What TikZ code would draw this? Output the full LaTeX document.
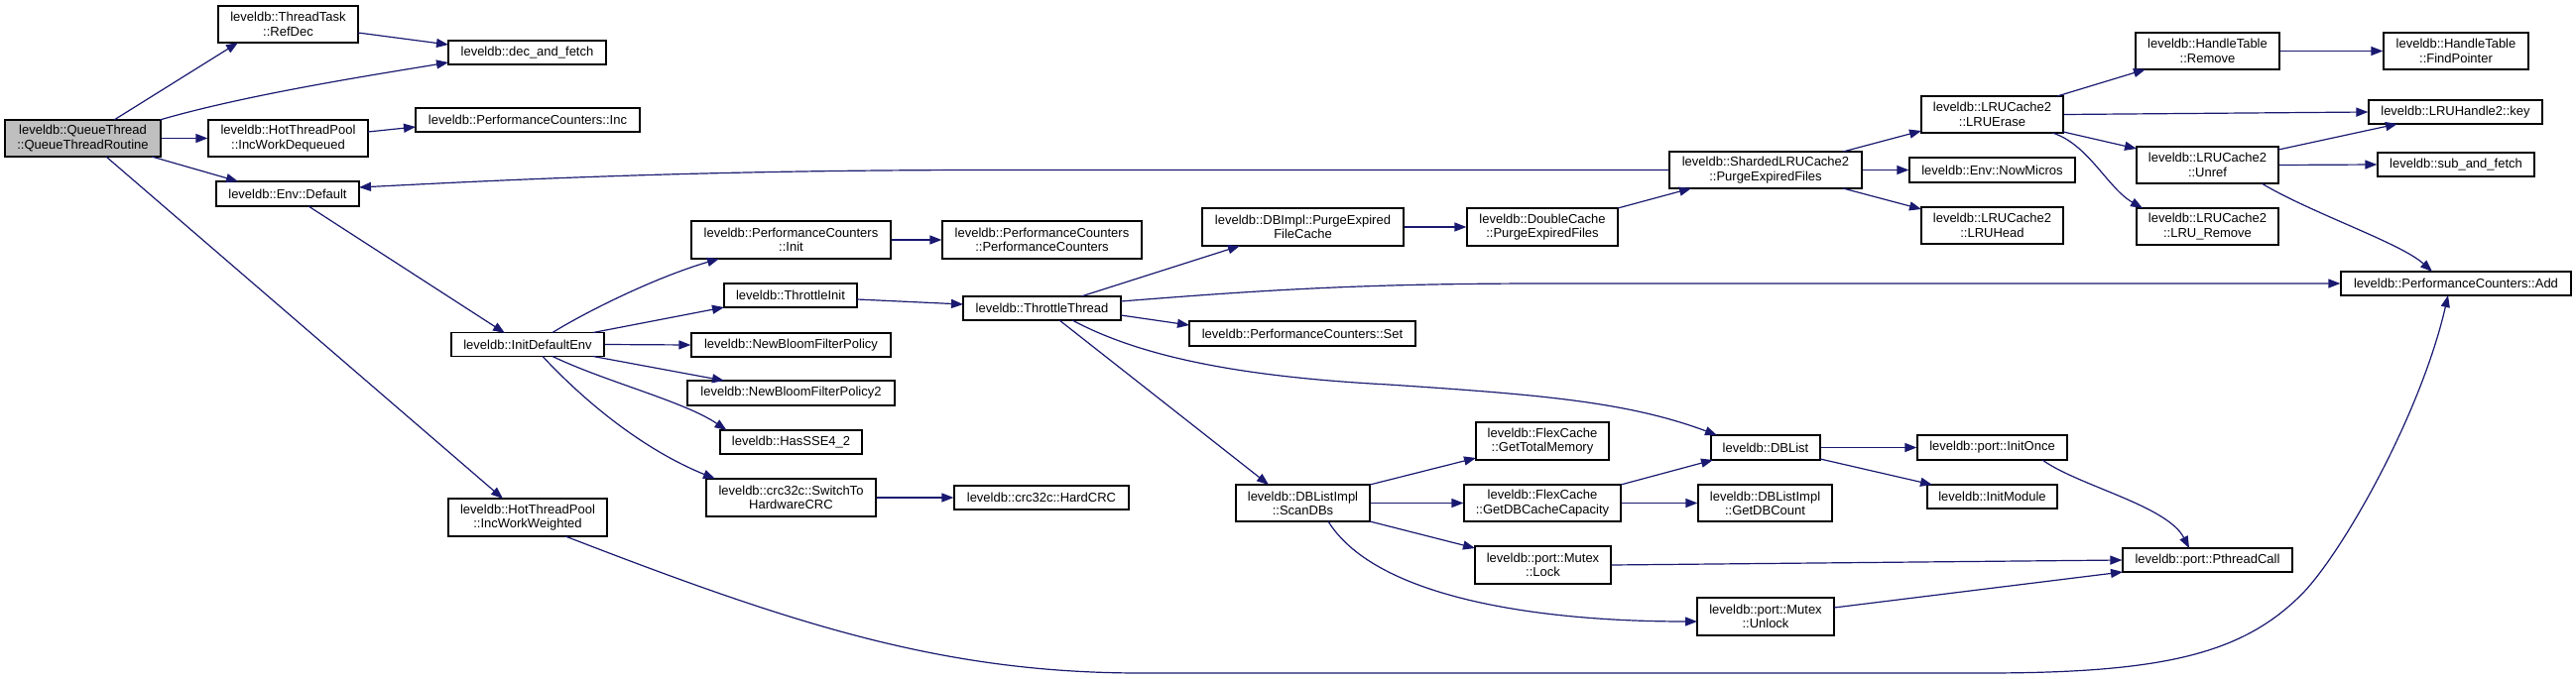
\documentclass[tikz,border=0pt]{standalone}
\usepackage{fontspec}
\setmainfont{Liberation Sans}
\usetikzlibrary{arrows.meta}
\definecolor{edgeblue}{HTML}{191970}
\definecolor{rootgray}{HTML}{BFBFBF}
\begin{document}
\begin{tikzpicture}[x=1pt,y=-1pt,
  fn/.style={draw=black, line width=1.2pt, fill=white, inner sep=0pt, align=center,
    font=\fontsize{13}{14.3}\selectfont},
  root/.style={fn, fill=rootgray},
  sz/.style 2 args={minimum width=#1pt, minimum height=#2pt},
  call/.style={draw=edgeblue, line width=1.2pt, -{Triangle[length=12pt,width=9pt]}},
]
\fill[white] (0,0) rectangle (2597,685);
\useasboundingbox (0,0) rectangle (2597,685);

% nodes
\node[root,sz={157}{37}] (qt) at (83.5,139.5) {leveldb::QueueThread\\::QueueThreadRoutine};
\node[fn,sz={141}{37}] (refdec) at (290.5,24.5) {leveldb::ThreadTask\\::RefDec};
\node[fn,sz={159}{24}] (decf) at (531.5,53) {leveldb::dec\_and\_fetch};
\node[fn,sz={161}{37}] (iwd) at (290.5,139.5) {leveldb::HotThreadPool\\::IncWorkDequeued};
\node[fn,sz={226}{24}] (pinc) at (532,121) {leveldb::PerformanceCounters::Inc};
\node[fn,sz={144}{25}] (envdef) at (290,195.5) {leveldb::Env::Default};
\node[fn,sz={154}{24}] (initenv) at (532,347.5) {leveldb::InitDefaultEnv};
\node[fn,sz={160}{38}] (iww) at (532,522) {leveldb::HotThreadPool\\::IncWorkWeighted};
\node[fn,sz={201}{38}] (pcinit) at (797.5,242) {leveldb::PerformanceCounters\\::Init};
\node[fn,sz={201}{38}] (pcpc) at (1050.5,242) {leveldb::PerformanceCounters\\::PerformanceCounters};
\node[fn,sz={134}{24}] (thinit) at (797,298) {leveldb::ThrottleInit};
\node[fn,sz={201}{24}] (nbfp) at (797.5,348) {leveldb::NewBloomFilterPolicy};
\node[fn,sz={209}{25}] (nbfp2) at (797.5,396.5) {leveldb::NewBloomFilterPolicy2};
\node[fn,sz={143}{24}] (sse) at (797.5,446) {leveldb::HasSSE4\_2};
\node[fn,sz={171}{38}] (sw) at (797.5,502) {leveldb::crc32c::SwitchTo\\HardwareCRC};
\node[fn,sz={176}{24}] (hardcrc) at (1050,502) {leveldb::crc32c::HardCRC};
\node[fn,sz={159}{24}] (tt) at (1050.5,311) {leveldb::ThrottleThread};
\node[fn,sz={203}{38}] (pefc) at (1313.5,229) {leveldb::DBImpl::PurgeExpired\\FileCache};
\node[fn,sz={228}{25}] (pset) at (1313,336.5) {leveldb::PerformanceCounters::Set};
\node[fn,sz={135}{37}] (scan) at (1313.5,507.5) {leveldb::DBListImpl\\::ScanDBs};
\node[fn,sz={152}{38}] (dc) at (1555,229) {leveldb::DoubleCache\\::PurgeExpiredFiles};
\node[fn,sz={134}{38}] (gtm) at (1555,445) {leveldb::FlexCache\\::GetTotalMemory};
\node[fn,sz={158}{37}] (gdbc) at (1555,507.5) {leveldb::FlexCache\\::GetDBCacheCapacity};
\node[fn,sz={137}{38}] (lock) at (1555.5,570) {leveldb::port::Mutex\\::Lock};
\node[fn,sz={194}{37}] (slru) at (1780,171.5) {leveldb::ShardedLRUCache2\\::PurgeExpiredFiles};
\node[fn,sz={110}{25}] (dblist) at (1780,451.5) {leveldb::DBList};
\node[fn,sz={135}{37}] (gdbcount) at (1779.5,507.5) {leveldb::DBListImpl\\::GetDBCount};
\node[fn,sz={138}{38}] (unlock) at (1780,622) {leveldb::port::Mutex\\::Unlock};
\node[fn,sz={143}{37}] (lruerase) at (2008.5,115.5) {leveldb::LRUCache2\\::LRUErase};
\node[fn,sz={167}{25}] (nowmicros) at (2008.5,171.5) {leveldb::Env::NowMicros};
\node[fn,sz={143}{37}] (lruhead) at (2008.5,227.5) {leveldb::LRUCache2\\::LRUHead};
\node[fn,sz={151}{25}] (initonce) at (2008.5,451.5) {leveldb::port::InitOnce};
\node[fn,sz={131}{24}] (initmodule) at (2008.5,501) {leveldb::InitModule};
\node[fn,sz={145}{37}] (htremove) at (2225.5,51.5) {leveldb::HandleTable\\::Remove};
\node[fn,sz={143}{37}] (unref) at (2225.5,166.5) {leveldb::LRUCache2\\::Unref};
\node[fn,sz={143}{37}] (lruremove) at (2225.5,228.5) {leveldb::LRUCache2\\::LRU\_Remove};
\node[fn,sz={171}{24}] (pthread) at (2225.5,565) {leveldb::port::PthreadCall};
\node[fn,sz={146}{37}] (findptr) at (2476,51.5) {leveldb::HandleTable\\::FindPointer};
\node[fn,sz={175}{24}] (key) at (2475.5,113) {leveldb::LRUHandle2::key};
\node[fn,sz={158}{24}] (subfetch) at (2476,166) {leveldb::sub\_and\_fetch};
\node[fn,sz={232}{24}] (padd) at (2476,286) {leveldb::PerformanceCounters::Add};

% edges
\draw[call] ([shift={(31.5,-18.5)}]qt.center) -- ([shift={(-50.5,18.5)}]refdec.center);
\draw[call] ([shift={(77.5,-18.5)}]qt.center) .. controls (250,95) and (380,75) .. ([shift={(-79.5,10)}]decf.center);
\draw[call] (qt.east) -- (iwd.west);
\draw[call] ([shift={(69.5,18.5)}]qt.center) -- ([shift={(-50,-12.5)}]envdef.center);
\draw[call] ([shift={(23.5,18.5)}]qt.center) -- ([shift={(-25,-19)}]iww.center);
\draw[call] ([shift={(70.5,8.5)}]refdec.center) -- ([shift={(-79.5,-8)}]decf.center);
\draw[call] ([shift={(80.5,-6.5)}]iwd.center) -- ([shift={(-113,7)}]pinc.center);
\draw[call] ([shift={(21,12.5)}]envdef.center) -- ([shift={(-23,-11.5)}]initenv.center);
\draw[call] ([shift={(25,-12)}]initenv.center) .. controls (590,315) and (660,280) .. ([shift={(-72.5,19)}]pcinit.center);
\draw[call] ([shift={(66,-12)}]initenv.center) -- ([shift={(-67,12)}]thinit.center);
\draw[call] (initenv.east) -- (nbfp.west);
\draw[call] ([shift={(66,12)}]initenv.center) -- ([shift={(-67.5,-12.5)}]nbfp2.center);
\draw[call] ([shift={(25,12)}]initenv.center) .. controls (610,385) and (690,405) .. ([shift={(-65,-12)}]sse.center);
\draw[call] ([shift={(15,12)}]initenv.center) .. controls (580,395) and (640,450) .. ([shift={(-76.5,-19)}]sw.center);
\draw[call] (pcinit.east) -- (pcpc.west);
\draw[call] ([shift={(67,4)}]thinit.center) -- ([shift={(-79.5,-4)}]tt.center);
\draw[call] (sw.east) -- (hardcrc.west);
\draw[call] ([shift={(39.5,-12)}]tt.center) -- ([shift={(-63.5,19)}]pefc.center);
\draw[call] ([shift={(79.5,-7)}]tt.center) .. controls (1280,292) and (1380,286) .. (1560,286) -- (padd.west);
\draw[call] ([shift={(79.5,7)}]tt.center) -- ([shift={(-114,-8.5)}]pset.center);
\draw[call] ([shift={(30.5,12)}]tt.center) .. controls (1150,360) and (1250,380) .. (1400,388) .. controls (1550,398) and (1640,405) .. ([shift={(-49,-12.5)}]dblist.center);
\draw[call] ([shift={(17.5,12)}]tt.center) -- ([shift={(-34.5,-18.5)}]scan.center);
\draw[call] (pefc.east) -- (dc.west);
\draw[call] ([shift={(76,-19)}]dc.center) -- ([shift={(-75,18.5)}]slru.center);
\draw[call] (slru.west) -- (1000,171.5) .. controls (700,171.5) and (500,182) .. ([shift={(72,-6.5)}]envdef.center);
\draw[call] ([shift={(78,-18.5)}]slru.center) -- ([shift={(-71.5,16.5)}]lruerase.center);
\draw[call] (slru.east) -- (nowmicros.west);
\draw[call] ([shift={(78,18.5)}]slru.center) -- ([shift={(-71.5,-16.5)}]lruhead.center);
\draw[call] ([shift={(65.5,-18.5)}]lruerase.center) -- ([shift={(-62.5,18.5)}]htremove.center);
\draw[call] (lruerase.east) -- (key.west);
\draw[call] ([shift={(71.5,17.5)}]lruerase.center) -- ([shift={(-71.5,-16.5)}]unref.center);
\draw[call] ([shift={(60.5,18.5)}]lruerase.center) .. controls (2105,145) and (2125,190) .. ([shift={(-65.5,-18.5)}]lruremove.center);
\draw[call] (htremove.east) -- (findptr.west);
\draw[call] ([shift={(71.5,-15.5)}]unref.center) -- ([shift={(-58.5,12)}]key.center);
\draw[call] (unref.east) -- (subfetch.west);
\draw[call] ([shift={(54.5,18.5)}]unref.center) .. controls (2330,215) and (2420,245) .. ([shift={(-24,-12)}]padd.center);
\draw[call] ([shift={(67.5,-18.5)}]scan.center) -- ([shift={(-67,17)}]gtm.center);
\draw[call] (scan.east) -- (gdbc.west);
\draw[call] ([shift={(67.5,18.5)}]scan.center) -- ([shift={(-68.5,-17)}]lock.center);
\draw[call] ([shift={(25.5,18.5)}]scan.center) .. controls (1389,606) and (1561,627) .. ([shift={(-69,5)}]unlock.center);
\draw[call] ([shift={(79,-18.5)}]gdbc.center) -- ([shift={(-53,12.5)}]dblist.center);
\draw[call] (gdbc.east) -- (gdbcount.west);
\draw[call] (dblist.east) -- (initonce.west);
\draw[call] ([shift={(55,11.5)}]dblist.center) -- ([shift={(-60.5,-12)}]initmodule.center);
\draw[call] ([shift={(50.5,12.5)}]initonce.center) .. controls (2095,490) and (2185,510) .. ([shift={(-18.5,-12)}]pthread.center);
\draw[call] (lock.east) -- (pthread.west);
\draw[call] ([shift={(69,-9)}]unlock.center) -- ([shift={(-85.5,12)}]pthread.center);
\draw[call] ([shift={(38,19)}]iww.center) .. controls (800,630) and (950,679) .. (1150,679) -- (2000,679) .. controls (2180,679) and (2260,660) .. (2320,600) .. controls (2360,560) and (2440,420) .. ([shift={(-8,12)}]padd.center);
\end{tikzpicture}
\end{document}
